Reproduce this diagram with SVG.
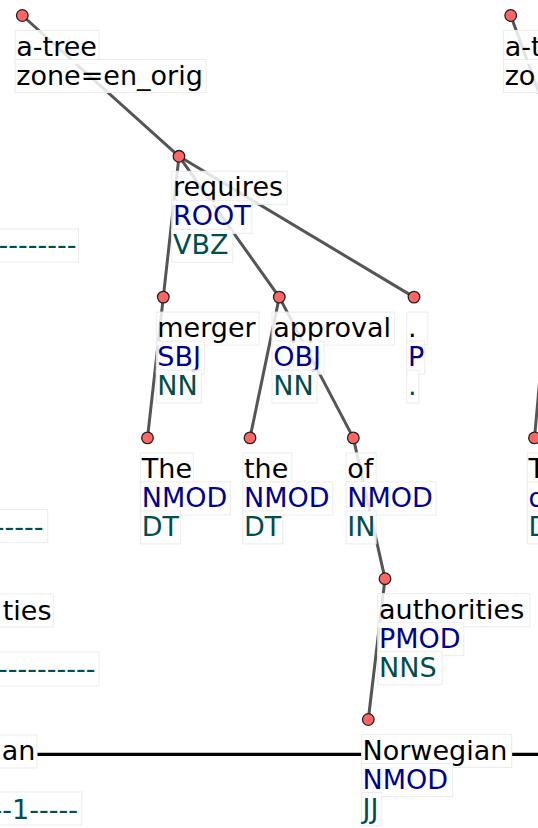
<svg xmlns="http://www.w3.org/2000/svg" width="538" height="828" viewBox="0 0 538 828">
<style>
text{font-family:"DejaVu Sans","Liberation Sans",sans-serif;font-size:27px}
.f{fill:#000}
.d{fill:#00008b}
.t{fill:#004d4d}
.e{fill:none;stroke:#555;stroke-width:3;stroke-linecap:round}
.b{fill:#fff;fill-opacity:0.84;stroke:#ebebeb;stroke-width:1}
.n{fill:#f66;stroke:#222;stroke-width:1.3}
.h{stroke:#000;stroke-width:3.2}
</style>
<rect width="538" height="828" fill="#fff"/>
<g id="connectors">
<line class="e" x1="22.3" y1="15.5" x2="179" y2="156.3"/>
<line class="e" x1="179" y1="156.3" x2="163.3" y2="297.1"/>
<line class="e" x1="179" y1="156.3" x2="279.3" y2="297.1"/>
<line class="e" x1="179" y1="156.3" x2="414" y2="297.1"/>
<line class="e" x1="163.3" y1="297.1" x2="147.5" y2="437.9"/>
<line class="e" x1="279.3" y1="297.1" x2="250" y2="437.9"/>
<line class="e" x1="279.3" y1="297.1" x2="353.3" y2="437.9"/>
<line class="e" x1="353.3" y1="437.9" x2="385" y2="578.7"/>
<line class="e" x1="385" y1="578.7" x2="368.3" y2="719.5"/>
<line class="e" x1="510.7" y1="15.5" x2="560" y2="150"/>
<line class="e" x1="534.5" y1="437.9" x2="547" y2="300"/>
<line class="h" x1="37" y1="754.3" x2="361.7" y2="754.3"/>
<line class="h" x1="511.7" y1="754.3" x2="545" y2="754.3"/>
</g>
<g id="left-fragments">
<rect class="b" x="-10" y="229" width="88.5" height="33"/>
<text class="t" x="76.5" y="254" text-anchor="end">-----------------</text>
<rect class="b" x="-10" y="509.5" width="57.7" height="33"/>
<text class="t" x="43.5" y="535.5" text-anchor="end">---------</text>
<rect class="b" x="-10" y="594" width="63.3" height="33"/>
<text class="f" x="51.5" y="620" text-anchor="end">ties</text>
<rect class="b" x="-10" y="652" width="109" height="34"/>
<text class="t" x="95.5" y="677.5" text-anchor="end">-----------------</text>
<rect class="b" x="-10" y="735" width="47" height="33"/>
<text class="f" x="35.5" y="760" text-anchor="end">an</text>
<rect class="b" x="-10" y="792" width="92" height="33"/>
<text class="t" x="78" y="819" text-anchor="end">------1-----</text>
</g>
<g id="node-root">
<circle class="n" cx="22.3" cy="15.5" r="5.8"/>
<rect class="b" x="15.1" y="30.5" width="84" height="33"/>
<text class="f" x="16.3" y="55.5">a-tree</text>
<rect class="b" x="15.1" y="59.5" width="191" height="33"/>
<text class="f" x="16.3" y="84.5">zone=en_orig</text>
</g>
<g id="node-requires">
<circle class="n" cx="179" cy="156.3" r="5.8"/>
<rect class="b" x="171.8" y="171.3" width="115.5" height="33"/>
<text class="f" x="173" y="196.3">requires</text>
<rect class="b" x="171.8" y="200.3" width="80" height="33"/>
<text class="d" x="173" y="225.3">ROOT</text>
<rect class="b" x="171.8" y="229.3" width="61" height="33"/>
<text class="t" x="173" y="254.3">VBZ</text>
</g>
<g id="node-merger">
<circle class="n" cx="163.3" cy="297.1" r="5.8"/>
<rect class="b" x="156.3" y="312.1" width="102.6" height="33"/>
<text class="f" x="157.3" y="337.1">merger</text>
<rect class="b" x="156.3" y="341.1" width="48.3" height="33"/>
<text class="d" x="157.3" y="366.1">SBJ</text>
<rect class="b" x="156.3" y="370.1" width="45" height="33"/>
<text class="t" x="157.3" y="395.1">NN</text>
</g>
<g id="node-approval">
<circle class="n" cx="279.3" cy="297.1" r="5.8"/>
<rect class="b" x="272" y="312.1" width="122.3" height="33"/>
<text class="f" x="273.2" y="337.1">approval</text>
<rect class="b" x="272" y="341.1" width="52" height="33"/>
<text class="d" x="273.2" y="366.1">OBJ</text>
<rect class="b" x="272" y="370.1" width="45" height="33"/>
<text class="t" x="273.2" y="395.1">NN</text>
</g>
<g id="node-period">
<circle class="n" cx="414" cy="297.1" r="5.8"/>
<rect class="b" x="406.8" y="312.1" width="21" height="33"/>
<text class="f" x="408" y="337.1">.</text>
<rect class="b" x="406.8" y="341.1" width="18" height="33"/>
<text class="d" x="408" y="366.1">P</text>
<rect class="b" x="406.8" y="370.1" width="12" height="33"/>
<text class="t" x="408" y="395.1">.</text>
</g>
<g id="node-The">
<circle class="n" cx="147.5" cy="437.9" r="5.8"/>
<rect class="b" x="140.3" y="452.9" width="53" height="33"/>
<text class="f" x="141.8" y="477.9">The</text>
<rect class="b" x="140.3" y="481.9" width="90" height="33"/>
<text class="d" x="141.8" y="506.9">NMOD</text>
<rect class="b" x="140.3" y="510.9" width="40" height="33"/>
<text class="t" x="141.8" y="535.9">DT</text>
</g>
<g id="node-the">
<circle class="n" cx="250" cy="437.9" r="5.8"/>
<rect class="b" x="242.8" y="452.9" width="49" height="33"/>
<text class="f" x="244" y="477.9">the</text>
<rect class="b" x="242.8" y="481.9" width="90" height="33"/>
<text class="d" x="244" y="506.9">NMOD</text>
<rect class="b" x="242.8" y="510.9" width="40" height="33"/>
<text class="t" x="244" y="535.9">DT</text>
</g>
<g id="node-of">
<circle class="n" cx="353.3" cy="437.9" r="5.8"/>
<rect class="b" x="346.1" y="452.9" width="30" height="33"/>
<text class="f" x="347.3" y="477.9">of</text>
<rect class="b" x="346.1" y="481.9" width="90" height="33"/>
<text class="d" x="347.3" y="506.9">NMOD</text>
<rect class="b" x="346.1" y="510.9" width="30" height="33"/>
<text class="t" x="347.3" y="535.9">IN</text>
</g>
<g id="node-authorities">
<circle class="n" cx="385" cy="578.7" r="5.8"/>
<rect class="b" x="377.8" y="593.7" width="152" height="33"/>
<text class="f" x="379" y="618.7">authorities</text>
<rect class="b" x="377.8" y="622.7" width="86" height="33"/>
<text class="d" x="379" y="647.7">PMOD</text>
<rect class="b" x="377.8" y="651.7" width="64.4" height="33"/>
<text class="t" x="379" y="676.7">NNS</text>
</g>
<g id="node-Norwegian">
<circle class="n" cx="368.3" cy="719.5" r="5.8"/>
<rect class="b" x="361.7" y="734.5" width="150" height="33"/>
<text class="f" x="362.5" y="759.5">Norwegian</text>
<rect class="b" x="361.7" y="763.5" width="91" height="33"/>
<text class="d" x="362.5" y="788.5">NMOD</text>
<rect class="b" x="361.7" y="792.5" width="20" height="33"/>
<text class="t" x="362.5" y="817.5">JJ</text>
</g>
<g id="node-root-right">
<circle class="n" cx="510.7" cy="15.5" r="5.8"/>
<rect class="b" x="503.5" y="30.5" width="84" height="33"/>
<text class="f" x="504.7" y="55.5">a-t</text>
<rect class="b" x="503.5" y="59.5" width="191" height="33"/>
<text class="f" x="504.7" y="84.5">zo</text>
</g>
<g id="node-T-right">
<circle class="n" cx="534.5" cy="437.9" r="5.8"/>
<rect class="b" x="527.3" y="452.9" width="60" height="33"/>
<text class="f" x="528.5" y="477.9">T</text>
<rect class="b" x="527.3" y="481.9" width="60" height="33"/>
<text class="d" x="528.5" y="506.9">d</text>
<rect class="b" x="527.3" y="510.9" width="60" height="33"/>
<text class="t" x="528.5" y="535.9">D</text>
</g>
</svg>
